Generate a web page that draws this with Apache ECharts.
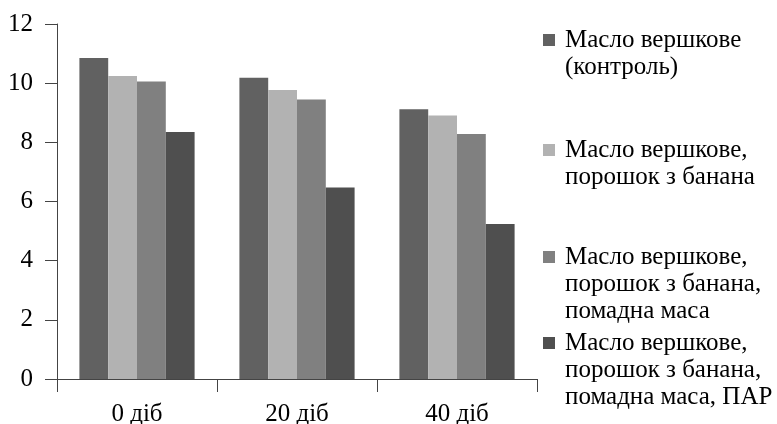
<!DOCTYPE html>
<html>
<head>
<meta charset="utf-8">
<script src="https://cdn.jsdelivr.net/npm/echarts@6/dist/echarts.min.js"></script>
<style>html,body{margin:0;padding:0;background:#fff}#c{width:777px;height:424px}</style>
</head>
<body>
<div id="c"></div>
<script>
var categories = ['0 діб', '20 діб', '40 діб'];
var seriesNames = [
  'Масло вершкове\n(контроль)',
  'Масло вершкове,\nпорошок з банана',
  'Масло вершкове,\nпорошок з банана,\nпомадна маса',
  'Масло вершкове,\nпорошок з банана,\nпомадна маса, ПАР'
];
var control = [10.85, 10.18, 9.12];
var banana = [10.24, 9.77, 8.91];
var bananaFondant = [10.06, 9.45, 8.28];
var bananaFondantPAR = [8.35, 6.47, 5.24];
var yTicks = [0, 2, 4, 6, 8, 10, 12];

var colors = ['#616161', '#b2b2b2', '#808080', '#4f4f4f'];
var values = [control, banana, bananaFondant, bananaFondantPAR];
var FONT = 'Liberation Serif';
var FS = 25, LH = 27;
var AXIS = '#444';
var legendFirstLine = [40, 150, 257, 343];

var legends = seriesNames.map(function (n, i) {
  var lines = n.split('\n').length;
  return {
    data: [n],
    left: 543,
    top: legendFirstLine[i] - LH / 2 - (lines - 1) * LH,
    padding: 0,
    itemWidth: 12,
    itemHeight: 12,
    itemGap: 0,
    icon: 'rect',
    itemStyle: { borderWidth: 0 },
    formatter: function (name) {
      var ls = name.split('\n');
      var out = [];
      for (var k = 0; k < ls.length - 1; k++) out.push('{t| }');
      ls.forEach(function (l) { out.push('{t|' + l + '}'); });
      return out.join('\n');
    },
    textStyle: {
      fontFamily: FONT, fontSize: FS, color: '#000', lineHeight: LH,
      rich: { t: { fontFamily: FONT, fontSize: FS, color: '#000', lineHeight: LH, padding: [0, 0, 0, 5] } }
    }
  };
});

var chart = echarts.init(document.getElementById('c'), null, { renderer: 'canvas' });
chart.setOption({
  animation: false,
  backgroundColor: '#fff',
  legend: legends,
  grid: { left: 57, right: 240, top: 24, bottom: 45, containLabel: false, outerBoundsMode: 'none' },
  xAxis: {
    type: 'category',
    data: categories,
    axisLine: { lineStyle: { color: AXIS, width: 1 } },
    axisTick: { show: true, length: 13, lineStyle: { color: AXIS } },
    axisLabel: { fontFamily: FONT, fontSize: FS, color: '#000', margin: 23 },
    splitLine: { show: false }
  },
  yAxis: {
    type: 'value',
    min: yTicks[0],
    max: yTicks[yTicks.length - 1],
    interval: yTicks[1] - yTicks[0],
    axisLine: { show: true, lineStyle: { color: AXIS, width: 1 } },
    axisTick: { show: true, length: 12, lineStyle: { color: AXIS } },
    axisLabel: { fontFamily: FONT, fontSize: FS, color: '#000', margin: 24 },
    splitLine: { show: false }
  },
  series: seriesNames.map(function (n, i) {
    return {
      name: n,
      type: 'bar',
      data: values[i],
      barGap: '0%',
      barCategoryGap: '28%',
      itemStyle: { color: colors[i] }
    };
  })
});
</script>
</body>
</html>
